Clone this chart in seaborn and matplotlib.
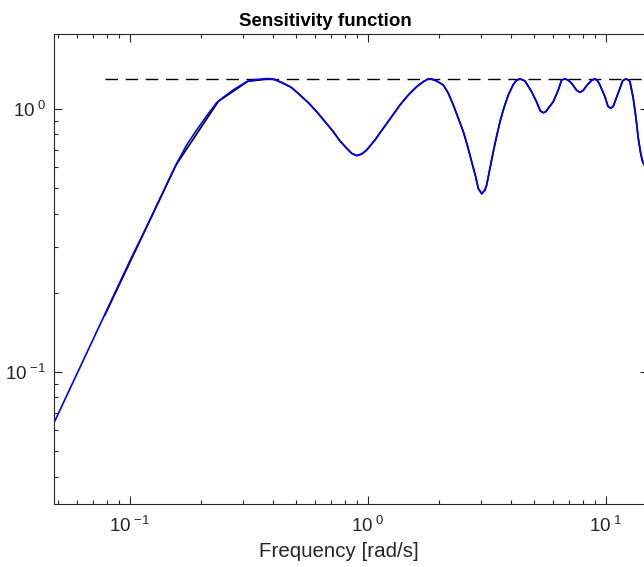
import matplotlib
matplotlib.use("Agg")
import matplotlib.pyplot as plt
import seaborn as sns
import pandas as pd

# ---- data ----
blue_freq = [0.0483, 0.1003, 0.1178, 0.155, 0.1736, 0.1912, 0.2106, 0.232, 0.2515, 0.2724,
             0.286, 0.310, 0.336, 0.364, 0.382, 0.408, 0.4418, 0.4716, 0.4868, 0.5194,
             0.5630, 0.6106, 0.6616, 0.7169, 0.7649, 0.816, 0.8566, 0.899, 0.9437, 0.990,
             1.073, 1.163, 1.261, 1.367, 1.481, 1.607, 1.713, 1.797, 1.86, 1.949,
             2.078, 2.182, 2.289, 2.403, 2.522, 2.632, 2.735, 2.843, 2.915, 3.013,
             3.111, 3.162, 3.265, 3.371, 3.483, 3.597, 3.739, 3.898, 4.092, 4.227,
             4.365, 4.48, 4.58, 4.888, 5.13, 5.317, 5.468, 5.61, 5.737, 6.023,
             6.322, 6.53, 6.745, 6.97, 7.195, 7.55, 7.80, 8.05, 8.32, 8.73,
             9.02, 9.26, 9.46, 9.93, 10.22, 10.50, 10.76, 10.94, 11.48, 11.79,
             12.17, 12.50, 12.65, 13.06, 13.41, 13.71, 14.03, 14.30, 15.06]
blue_mag = [0.0647, 0.265, 0.357, 0.603, 0.730, 0.832, 0.941, 1.057, 1.120, 1.181,
            1.215, 1.270, 1.292, 1.302, 1.305, 1.293, 1.252, 1.216, 1.191, 1.130,
            1.057, 0.977, 0.895, 0.820, 0.7555, 0.709, 0.678, 0.665, 0.674, 0.698,
            0.762, 0.845, 0.935, 1.036, 1.130, 1.216, 1.270, 1.302, 1.298, 1.278,
            1.234, 1.147, 1.036, 0.922, 0.820, 0.719, 0.630, 0.553, 0.499, 0.476,
            0.492, 0.514, 0.595, 0.688, 0.789, 0.895, 1.012, 1.130, 1.240, 1.286,
            1.302, 1.290, 1.278, 1.163, 1.061, 0.983, 0.968, 0.977, 1.006, 1.066,
            1.181, 1.289, 1.302, 1.286, 1.252, 1.178, 1.157, 1.178, 1.226, 1.286,
            1.302, 1.278, 1.234, 1.114, 1.024, 1.006, 1.024, 1.066, 1.199, 1.281,
            1.302, 1.286, 1.270, 1.098, 0.922, 0.774, 0.678, 0.630, 0.58]

# coarse (sampled) curve: visible vertices at low frequency, then same readings
black_low_freq = [0.0785, 0.157, 0.236, 0.314, 0.393]
black_low_mag = [0.164, 0.615, 1.07, 1.275, 1.303]

bound_freq = [0.0785, 15.06]
bound_mag = [1.30, 1.30]

title_text = "Sensitivity function"
xlabel_text = "Frequency [rad/s]"
xtick_vals = [0.1, 1, 10]
xtick_labels = [r"$\mathregular{10^{\ {-}1}}$", r"$\mathregular{10^{\ 0}}$", r"$\mathregular{10^{\ 1}}$"]
ytick_vals = [0.1, 1]
ytick_labels = [r"$\mathregular{10^{\ {-}1}}$", r"$\mathregular{10^{\ 0}}$"]

start = next(i for i, f in enumerate(blue_freq) if f > black_low_freq[-1])
black_freq = black_low_freq + blue_freq[start:]
black_mag = black_low_mag + blue_mag[start:]

# ---- plotting ----
sns.set_style("ticks")
plt.rcParams["font.family"] = ["Liberation Sans", "DejaVu Sans"]
plt.rcParams["mathtext.fontset"] = "custom"
plt.rcParams["mathtext.rm"] = "Liberation Sans"
plt.rcParams["mathtext.it"] = "Liberation Sans:italic"
plt.rcParams["mathtext.bf"] = "Liberation Sans:bold"

fig = plt.figure(figsize=(6.44, 5.67), dpi=100)
ax = fig.add_axes([0.0846, 0.1106, 0.9216, 0.8289])
ax.set_xscale("log")
ax.set_yscale("log")

black_df = pd.DataFrame({"freq": black_freq, "mag": black_mag})
blue_df = pd.DataFrame({"freq": blue_freq, "mag": blue_mag})
bound_df = pd.DataFrame({"freq": bound_freq, "mag": bound_mag})

sns.lineplot(data=bound_df, x="freq", y="mag", color="black", lw=1.0,
             estimator=None, sort=False, ax=ax)
ax.lines[-1].set_linestyle((0, (9, 5.5)))
sns.lineplot(data=black_df, x="freq", y="mag", color="black", lw=1.2,
             estimator=None, sort=False, ax=ax)
sns.lineplot(data=blue_df, x="freq", y="mag", color=(0, 0, 1), lw=1.2,
             estimator=None, sort=False, ax=ax)
for ln in ax.lines:
    ln.set_solid_joinstyle("round")

ax.set_xlim(0.0483, 15.06)
ax.set_ylim(0.0314, 1.923)

ax.set_xticks(xtick_vals)
ax.set_xticklabels(xtick_labels)
ax.set_yticks(ytick_vals)
ax.set_yticklabels(ytick_labels)

edge = "#262626"
ax.tick_params(which="both", direction="in", top=True, right=True,
               colors=edge, labelcolor=edge, width=0.8)
ax.tick_params(which="major", length=5.5, labelsize=13.5)
ax.tick_params(which="minor", length=3)
ax.tick_params(axis="x", which="major", pad=8)
ax.tick_params(axis="y", which="major", pad=6)
for s in ax.spines.values():
    s.set_visible(True)
    s.set_color(edge)
    s.set_linewidth(0.8)

ax.set_xlabel(xlabel_text, fontsize=14.8, color=edge)
ax.xaxis.set_label_coords(0.479, -0.081)
ax.set_ylabel("")
ax.set_title(title_text, fontsize=13.5, fontweight="bold", color="black", pad=6, x=0.456)

fig.savefig("out.png", dpi=100)
